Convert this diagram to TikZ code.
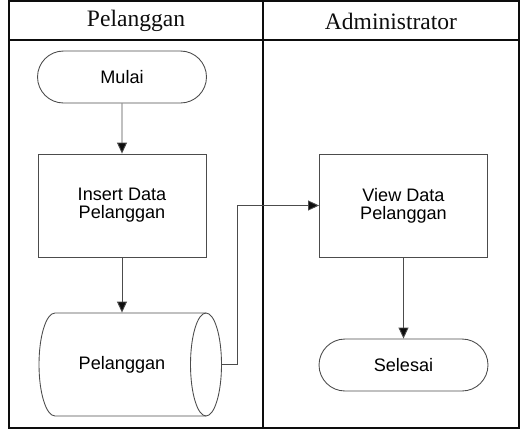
\documentclass[tikz,border=0pt]{standalone}
\usepackage{fontspec}
\setmainfont{Liberation Serif}
\setsansfont{Liberation Sans}
\usetikzlibrary{arrows.meta,shapes.misc}
\definecolor{ink}{gray}{0.05}
\definecolor{edge}{gray}{0.30}

\begin{document}
\begin{tikzpicture}[x=0.02cm, y=-0.02cm, line width=0.5pt,
   term/.style={rounded rectangle, draw=edge, minimum width=3.38cm, minimum height=1.04cm, inner sep=0pt, font=\sffamily\fontsize{10.3}{10.4}\selectfont},
   proc/.style={rectangle, draw=edge, minimum width=3.36cm, minimum height=2.06cm, inner sep=0pt, align=center, font=\sffamily\fontsize{10.3}{10.4}\selectfont},
   lane/.style={font=\fontsize{13.4}{15}\selectfont, text=ink},
   flow/.style={draw=edge, -{Triangle[width=2mm, length=2.2mm, fill=ink]}}]
  \useasboundingbox (0,0) rectangle (523,430);
  % swimlanes
  \draw[ink, line width=0.9pt] (9,1) rectangle (263,428);
  \draw[ink, line width=0.9pt] (263,1) rectangle (519,428);
  \draw[ink, line width=0.9pt] (9,40) -- (519,40);
  \node[lane](hp) at (136,21){Pelanggan};
  \node[lane](ha) at (391,21){Administrator};
  % pelanggan lane
  \node[term](mulai) at (122,77){Mulai};
  \node[proc](insert) at (122,205.5){Insert Data\\Pelanggan};
  \node[minimum width=3.66cm, minimum height=2.06cm, inner sep=0pt, font=\sffamily\fontsize{10.3}{10.4}\selectfont](db) at (130.5,364.5){\hspace*{-0.34cm}Pelanggan};
  \draw[edge] (55,313) -- (206,313) (55,313) arc[start angle=90, end angle=270, x radius=0.32cm, y radius=1.03cm] -- (206,416);
  \draw[edge] (206,364.5) ellipse [x radius=0.31cm, y radius=1.03cm];
  % administrator lane
  \node[proc](view) at (403.5,205.5){View Data\\Pelanggan};
  \node[term](selesai) at (403.5,365){Selesai};
  % connectors
  \draw[flow] (mulai) -- (insert);
  \draw[flow] (insert) -- (insert |- db.north);
  \draw[flow] (db.east) -- ++(15,0) |- (view.west);
  \draw[flow] (view) -- (selesai);
\end{tikzpicture}
\end{document}
